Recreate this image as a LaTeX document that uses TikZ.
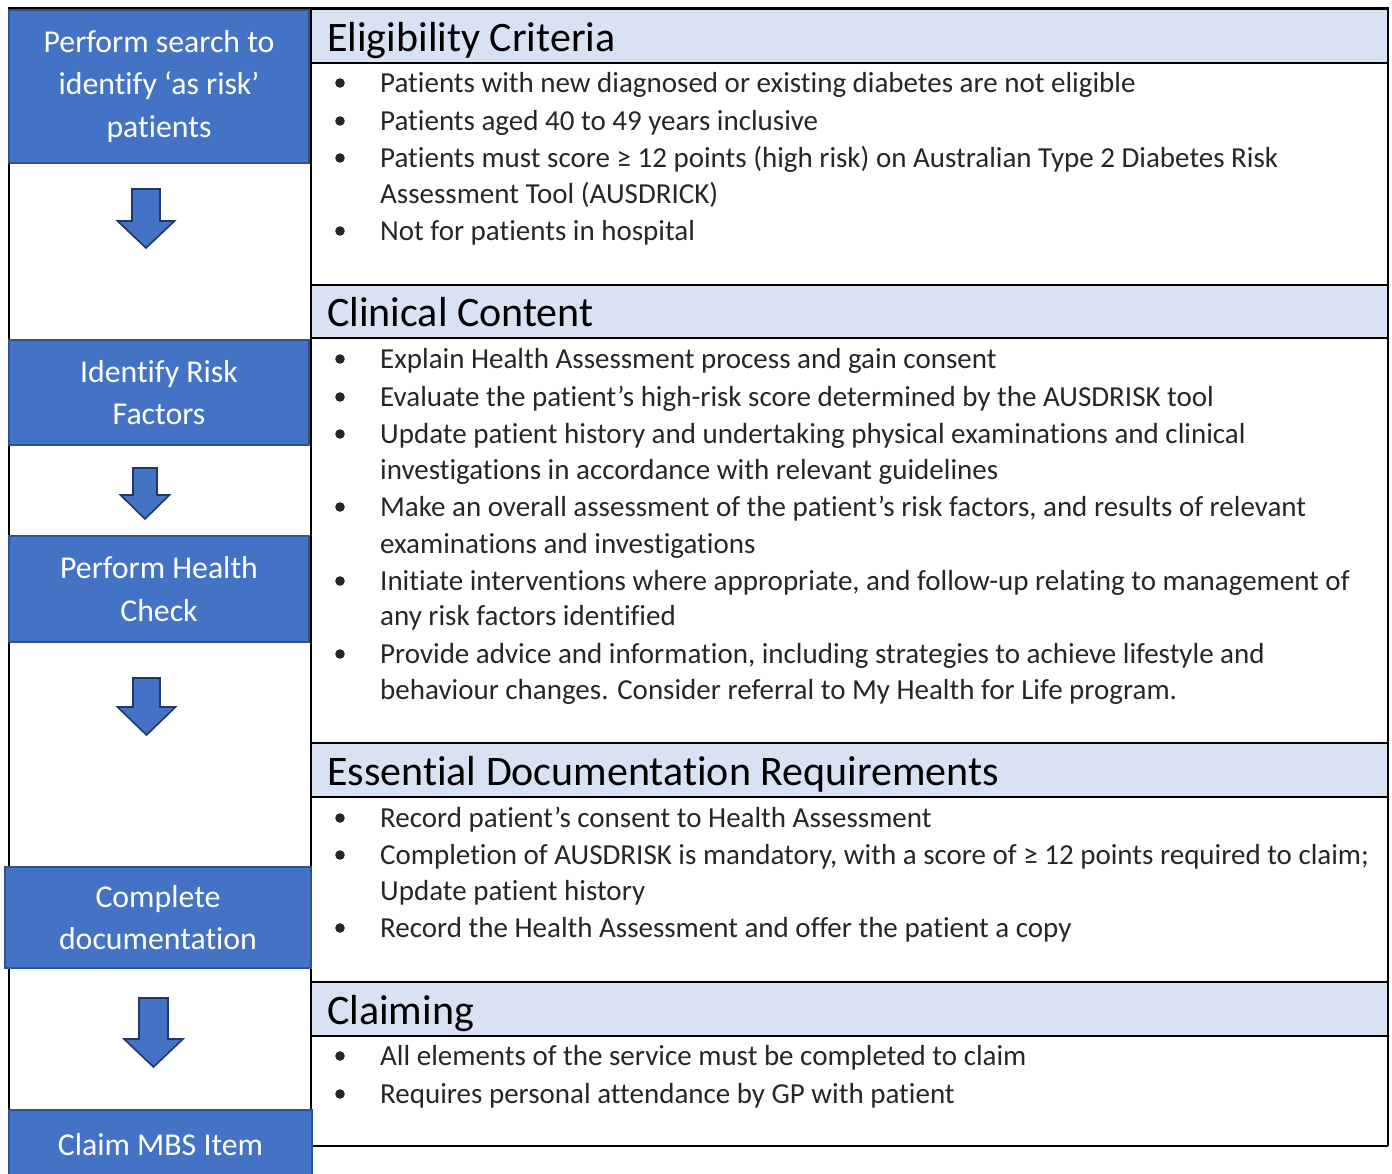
\documentclass[tikz,border=0pt]{standalone}
\usepackage{fontspec}
\setmainfont{Carlito}[Ligatures=NoCommon]
\definecolor{boxblue}{HTML}{4472C4}
\definecolor{boxedge}{HTML}{2F528F}
\definecolor{arrowedge}{HTML}{203864}
\definecolor{bandblue}{HTML}{D9E2F3}
\definecolor{bodytext}{HTML}{262626}

% one line of bullet text, and the bullet itself
\newcommand\bline[3]{\node[bodyline] (#1) at (380,#2) {#3};}
\newcommand\bdot[1]{\fill[bodytext] (340,#1-9) circle[radius=4.8];}
% block arrow pointing down: centre x, top y, shaft half width, head half width, shaft bottom y, tip y
\newcommand\blockdown[6]{%
  \draw[blockarrow] (#1-#3,#2) -- (#1+#3,#2) -- (#1+#3,#5) -- (#1+#4,#5)
    -- (#1,#6) -- (#1-#4,#5) -- (#1-#3,#5) -- cycle;}

\begin{document}
\begin{tikzpicture}[x=1pt,y=-1pt,
  stepbox/.style={fill=boxblue, draw=boxedge, line width=1.3pt, text=white,
    font=\fontsize{31.8}{42.5}\selectfont, align=center, inner sep=0pt},
  blockarrow/.style={fill=boxblue, draw=arrowedge, line width=1.6pt, line join=miter},
  band/.style={fill=bandblue, draw=none},
  rule/.style={draw=black, line width=2pt},
  heading/.style={anchor=base west, inner sep=0pt, text=black,
    font=\fontsize{42}{48}\selectfont},
  bodyline/.style={anchor=base west, inner sep=0pt, text=bodytext,
    font=\fontsize{29}{36}\selectfont},
]
\useasboundingbox (0,0) rectangle (1392,1173);

% header bands of the right column
\fill[band] (311,8) rectangle (1388,63);
\fill[band] (311,285) rectangle (1388,338);
\fill[band] (311,743) rectangle (1388,797);
\fill[band] (311,982) rectangle (1388,1036);

% frame and section rules
\draw[rule, line width=3pt] (8,8) -- (1389,8);
\draw[rule] (9,8) -- (9,1112);
\draw[rule] (311,8) -- (311,1146);
\draw[rule] (1388,8) -- (1388,1146);
\foreach \yy in {63,285,338,743,797,982,1036,1146}
  \draw[rule] (311,\yy) -- (1388,\yy);

% process steps
\node[stepbox, minimum width=300, minimum height=153] (search) at (159,86.5)
  {Perform search to\\identify ‘as risk’\\patients};
\node[stepbox, minimum width=300, minimum height=105] (risk) at (159,392.5)
  {Identify Risk\\Factors};
\node[stepbox, minimum width=300, minimum height=106] (check) at (159,589)
  {Perform Health\\Check};
\node[stepbox, minimum width=306, minimum height=101] (docs) at (158,917.5)
  {Complete\\documentation};
\node[stepbox, minimum width=303, minimum height=70] (claim) at (160.5,1145)
  {Claim MBS Item};

% arrows between the steps
\blockdown{146}{189}{14}{28.5}{221}{248}
\blockdown{145}{468}{12}{24.5}{495}{519}
\blockdown{146.5}{678}{13.5}{29}{707}{735}
\blockdown{153.5}{998}{14.5}{29.5}{1039}{1067}

% Eligibility Criteria
\node[heading] (hElig) at (327,51) {Eligibility Criteria};
\bdot{92}  \bline{e1}{92}{Patients with new diagnosed or existing diabetes are not eligible}
\bdot{130} \bline{e2}{130}{Patients aged 40 to 49 years inclusive}
\bdot{167} \bline{e3}{167}{Patients must score ≥ 12 points (high risk) on Australian Type 2 Diabetes Risk}
           \bline{e3b}{203}{Assessment Tool (AUSDRICK)}
\bdot{240} \bline{e4}{240}{Not for patients in hospital}

% Clinical Content
\node[heading] (hClin) at (327,326) {Clinical Content};
\bdot{368} \bline{c1}{368}{Explain Health Assessment process and gain consent}
\bdot{406} \bline{c2}{406}{Evaluate the patient’s high-risk score determined by the AUSDRISK tool}
\bdot{443} \bline{c3}{443}{Update patient history and undertaking physical examinations and clinical}
           \bline{c3b}{479}{investigations in accordance with relevant guidelines}
\bdot{516} \bline{c4}{516}{Make an overall assessment of the patient’s risk factors, and results of relevant}
           \bline{c4b}{553}{examinations and investigations}
\bdot{590} \bline{c5}{590}{Initiate interventions where appropriate, and follow-up relating to management of}
           \bline{c5b}{625}{any risk factors identified}
\bdot{663} \bline{c6}{663}{Provide advice and information, including strategies to achieve lifestyle and}
           \bline{c6b}{699}{behaviour changes. Consider referral to My Health for Life program.}

% Essential Documentation Requirements
\node[heading] (hDoc) at (327,785) {Essential Documentation Requirements};
\bdot{827} \bline{d1}{827}{Record patient’s consent to Health Assessment}
\bdot{864} \bline{d2}{864}{Completion of AUSDRISK is mandatory, with a score of ≥ 12 points required to claim;}
           \bline{d2b}{900}{Update patient history}
\bdot{937} \bline{d3}{937}{Record the Health Assessment and offer the patient a copy}

% Claiming
\node[heading] (hClaim) at (327,1024) {Claiming};
\bdot{1065} \bline{m1}{1065}{All elements of the service must be completed to claim}
\bdot{1103} \bline{m2}{1103}{Requires personal attendance by GP with patient}
\end{tikzpicture}
\end{document}
